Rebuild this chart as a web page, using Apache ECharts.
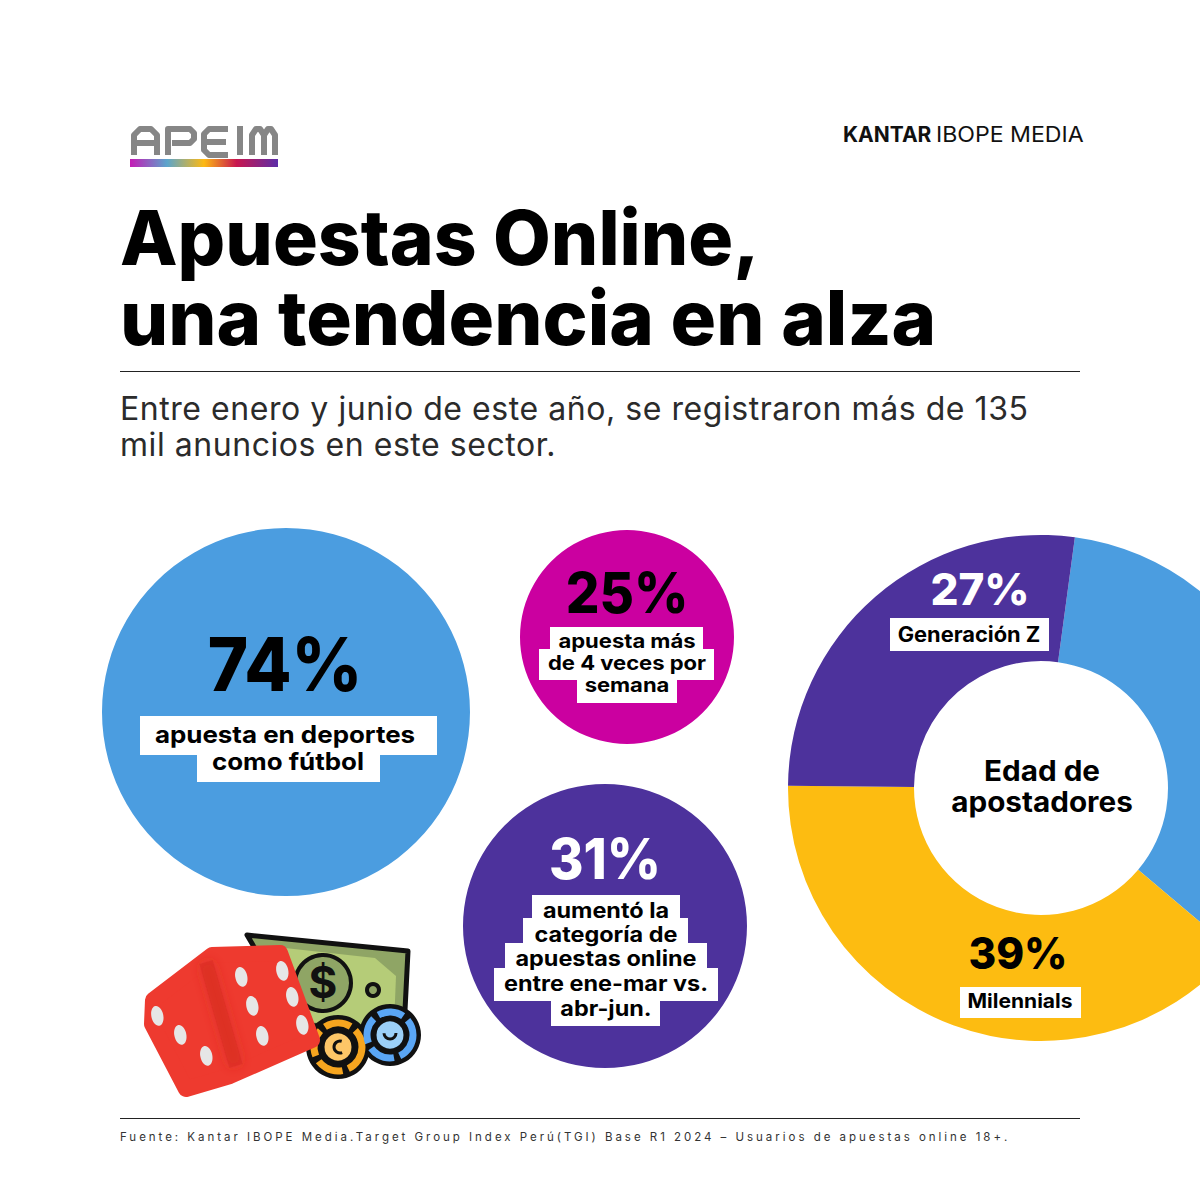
<!DOCTYPE html>
<html>
<head>
<meta charset="utf-8">
<style>html,body{margin:0;background:#fff}#main{width:1200px;height:1200px}</style>
<script src="https://cdn.jsdelivr.net/npm/echarts@6/dist/echarts.min.js"></script>
</head>
<body>
<div id="main"></div>
<script>
// datos
var ageNames = ['Generación X+', 'Milennials', 'Generación Z']
var ageValues = [34, 39, 27]
var sportsValue = 74
var weeklyValue = 25
var growthValue = 31
var sportsLines = ['apuesta en deportes', 'como fútbol']
var weeklyLines = ['apuesta más', 'de 4 veces por', 'semana']
var growthLines = ['aumentó la', 'categoría de', 'apuestas online', 'entre ene-mar vs.', 'abr-jun.']
var titleLines = ['Apuestas Online,', 'una tendencia en alza']
var subtitleLines = ['Entre enero y junio de este año, se registraron más de 135', 'mil anuncios en este sector.']
var source = 'Fuente: Kantar IBOPE Media.Target Group Index Perú(TGI) Base R1 2024 – Usuarios de apuestas online 18+.'

var BLUE = '#4b9de0', MAGENTA = '#cb00a0', PURPLE = '#4d329c', YELLOW = '#fdbc11'
var FONT = 'Inter, "Noto Sans", sans-serif'
var g = []

function txt(x, y, str, size, weight, color, align, sx) {
  g.push({
    type: 'text', z: 20, x: x, y: y, scaleX: sx || 1, silent: true,
    style: { text: str, fill: color || '#000', font: weight + ' ' + size + 'px ' + FONT, textAlign: align || 'center', textVerticalAlign: 'middle' },
  })
}
function box(x0, y0, x1, y1) {
  g.push({ type: 'rect', z: 15, silent: true, shape: { x: x0, y: y0, width: x1 - x0, height: y1 - y0 }, style: { fill: '#fff' } })
}
function line(y) {
  g.push({ type: 'line', z: 10, silent: true, shape: { x1: 120, y1: y, x2: 1080, y2: y }, style: { stroke: '#222', lineWidth: 1 } })
}
function poly(pts, fill, stroke, w, z) {
  g.push({ type: 'polygon', z: z, silent: true, shape: { points: pts }, style: { fill: fill, stroke: stroke, lineWidth: w, lineJoin: 'round' } })
}
function circ(cx, cy, r, fill, stroke, w, z, dash) {
  g.push({ type: 'circle', z: z, silent: true, shape: { cx: cx, cy: cy, r: r }, style: { fill: fill, stroke: stroke, lineWidth: w || 0, lineDash: dash } })
}

// logo APEIM
var logo = [
  [[134,155],[134,135],[140,129],[151,129],[157,135],[157,155]], [[134,143],[157,143]],
  [[168,155],[168,129],[190,129],[194,133],[194,139],[190,143],[172,143]],
  [[228,129],[209,129],[204,134],[204,150],[209,155],[228,155]], [[206,142],[226,142]],
  [[240,126],[240,155]],
  [[252,155],[252,135],[256,129],[260,129],[264,135],[264,155]], [[264,135],[268,129],[271,129],[275,135],[275,155]],
]
logo.forEach(function (p) {
  g.push({ type: 'polyline', z: 10, silent: true, shape: { points: p }, style: { fill: 'none', stroke: '#868686', lineWidth: 6, lineJoin: 'round' } })
})
g.push({
  type: 'rect', z: 10, silent: true, shape: { x: 130, y: 159, width: 148, height: 8 },
  style: { fill: new echarts.graphic.LinearGradient(0, 0, 1, 0, [
    { offset: 0, color: '#c41bb5' }, { offset: 0.25, color: '#5ba5cc' }, { offset: 0.5, color: '#fdb913' },
    { offset: 0.72, color: '#c8174f' }, { offset: 1, color: '#5c2da8' },
  ]) },
})

txt(843, 134, 'KANTAR', 21, 700, '#111', 'left')
txt(936, 134, 'IBOPE MEDIA', 21, 400, '#111', 'left', 1.1)

txt(120, 237, titleLines[0], 76, 800, '#000', 'left', 0.985)
txt(120, 317, titleLines[1], 76, 800, '#000', 'left')
line(371.5)
txt(120, 408, subtitleLines[0], 32, 400, '#2b2b2b', 'left')
txt(120, 444, subtitleLines[1], 32, 400, '#2b2b2b', 'left')

// 74%
txt(285, 664, sportsValue + '%', 74, 800, '#000', 'center', 0.93)
box(140, 716, 437, 755); box(197, 755, 380, 782)
txt(285, 734, sportsLines[0], 24, 700, '#000', 'center', 1.08)
txt(288, 761, sportsLines[1], 24, 700, '#000', 'center', 1.08)

// 25%
txt(627, 592, weeklyValue + '%', 56, 800, '#000', 'center', 0.945)
box(550, 627, 703, 649); box(539, 649, 714, 680); box(577, 680, 677, 703)
txt(627, 641, weeklyLines[0], 20, 700, '#000', 'center', 1.1)
txt(627, 663, weeklyLines[1], 20, 700, '#000', 'center', 1.1)
txt(627, 685, weeklyLines[2], 20, 700, '#000', 'center', 1.1)

// 31%
txt(605, 858, growthValue + '%', 56, 800, '#fff', 'center', 0.94)
box(532, 895, 680, 918); box(523, 918, 688, 943); box(505, 943, 707, 968); box(494, 968, 718, 1001); box(551, 1001, 660, 1026)
growthLines.forEach(function (s, i) { txt(606, [910, 934, 958, 983, 1008][i], s, 21, 700, '#000', 'center', 1.115) })

// dona
txt(980, 589, ageValues[2] + '%', 44, 800, '#fff')
box(890, 618, 1049, 651)
txt(969, 634, ageNames[2], 21, 700, '#000', 'center', 1.04)
txt(1018, 953, ageValues[1] + '%', 44, 800, '#000', 'center', 0.96)
box(960, 987, 1081, 1018)
txt(1020, 1001, ageNames[1], 20, 700, '#000', 'center', 1.05)
txt(1042, 771, 'Edad de', 28, 700, '#000', 'center', 1.06)
txt(1042, 802, 'apostadores', 28, 700, '#000', 'center', 1.06)

// billete
poly([[247,935],[408,951],[404,1030],[300,1025]], '#8fa565', '#111', 5, 10)
poly([[285,948],[375,958],[396,976],[394,1025],[300,1022]], '#b5cc78', null, 0, 11)
circ(323, 983, 28, '#8fa565', '#111', 4, 12)
g.push({ type: 'text', z: 13, x: 323, y: 982, silent: true, style: { text: '$', fill: '#111', font: '700 44px ' + FONT, textAlign: 'center', textVerticalAlign: 'middle' } })
circ(373, 990, 6, '#8fa565', '#111', 4, 12)
// fichas
circ(338, 1047, 32, '#111', null, 0, 13)
circ(338, 1047, 24, 'none', '#f6a51f', 7, 14, [27, 6])
circ(338, 1047, 15, '#fdc667', '#111', 3, 14)
circ(390, 1035, 31, '#111', null, 0, 13)
circ(390, 1035, 23, 'none', '#5aa6f5', 7, 14, [26, 6])
circ(390, 1035, 15, '#9cd0f8', '#111', 3, 14)
g.push({ type: 'arc', z: 15, silent: true, shape: { cx: 340, cy: 1047, r: 6, startAngle: 1.2, endAngle: 5, clockwise: true }, style: { fill: 'none', stroke: '#111', lineWidth: 3 } })
g.push({ type: 'arc', z: 15, silent: true, shape: { cx: 390, cy: 1033, r: 6, startAngle: 0, endAngle: 3.1, clockwise: true }, style: { fill: 'none', stroke: '#111', lineWidth: 3 } })
// dado
poly([[153,1000],[152,1024],[186,1089],[230,1076],[312,1040],[280,953],[212,955]], '#ee3a2f', '#ee3a2f', 16, 16)
g.push({ type: 'line', z: 17, silent: true, shape: { x1: 206, y1: 962, x2: 236, y2: 1066 }, style: { stroke: '#d42c22', lineWidth: 14, opacity: 0.45, shadowBlur: 12, shadowColor: '#d42c22' } })
var pips = [[157,1016],[180,1035],[206,1056],[241,977],[282,971],[252,1006],[292,997],[262,1036],[302,1025]]
pips.forEach(function (p) {
  g.push({ type: 'ellipse', z: 18, silent: true, rotation: 0.2, originX: p[0], originY: p[1], shape: { cx: p[0], cy: p[1], rx: 6, ry: 10 }, style: { fill: '#e6e6e6' } })
})

line(1118.5)
txt(120, 1137, source, 11.5, 400, '#333', 'left')

function disc(value, color, center, r) {
  return {
    type: 'pie', silent: true, center: center, radius: r, label: { show: false }, labelLine: { show: false },
    emphasis: { disabled: true }, data: [{ value: value, itemStyle: { color: color } }],
  }
}

var chart = echarts.init(document.getElementById('main'), null, { renderer: 'svg' })
chart.setOption({
  backgroundColor: '#fff',
  animation: false,
  series: [
    disc(sportsValue, BLUE, [286, 712], 184),
    disc(weeklyValue, MAGENTA, [627, 637], 107),
    disc(growthValue, PURPLE, [605, 926], 142),
    {
      type: 'pie', silent: true, center: [1041, 788], radius: [127, 253], startAngle: 82.3,
      label: { show: false }, labelLine: { show: false }, emphasis: { disabled: true },
      data: ageValues.map(function (v, i) {
        return { value: v, name: ageNames[i], itemStyle: { color: [BLUE, YELLOW, PURPLE][i] } }
      }),
    },
  ],
  graphic: { elements: g },
})

// espaciado de letras del subtítulo y la fuente
function track() {
  document.querySelectorAll('#main text').forEach(function (t) {
    var s = t.textContent
    if (s === source) t.style.letterSpacing = '2.97px'
    if (subtitleLines.indexOf(s) >= 0) t.style.letterSpacing = '0.55px'
  })
}
chart.on('finished', track)
track()
</script>
</body>
</html>
